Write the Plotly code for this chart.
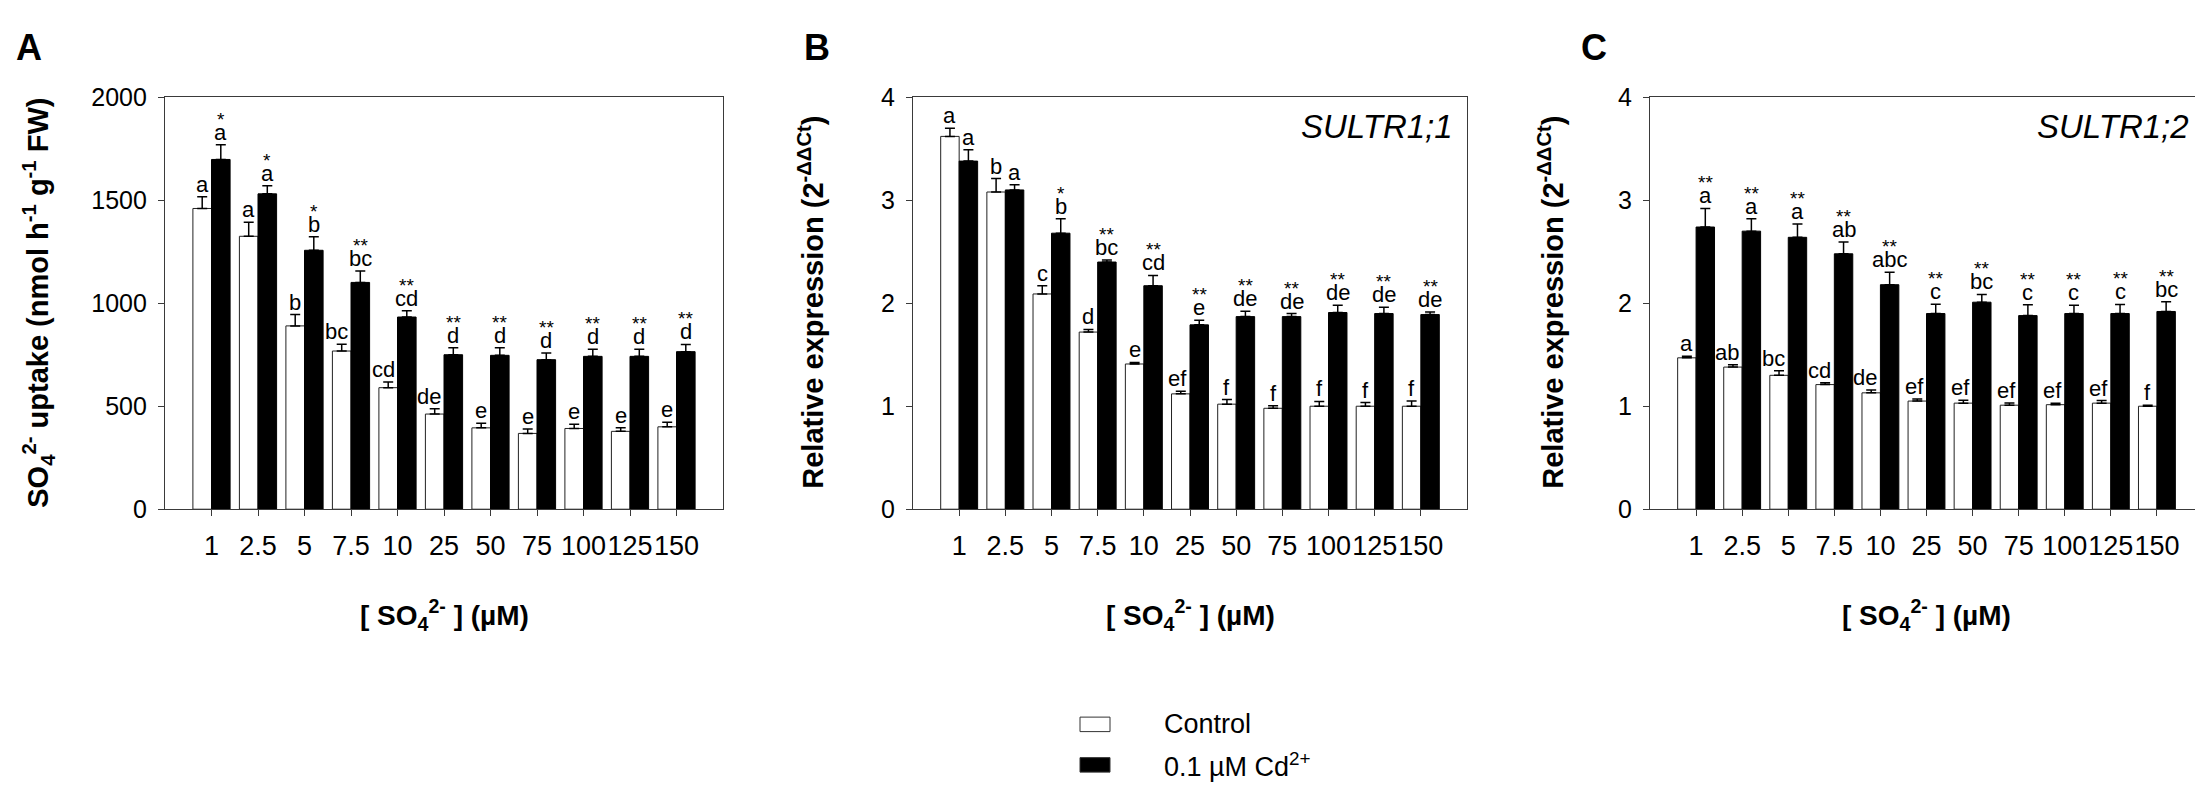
import plotly.graph_objects as go

# sulfate concentrations (µM)
conc = ["1", "2.5", "5", "7.5", "10", "25", "50", "75", "100", "125", "150"]
idx = list(range(len(conc)))

# A: SO4 uptake
uptake_ctrl = [1460, 1325, 890, 768, 590, 462, 395, 368, 392, 378, 400]
uptake_ctrl_err = [57, 68, 55, 33, 28, 26, 22, 22, 20, 18, 22]
uptake_cd = [1698, 1531, 1257, 1101, 933, 750, 747, 726, 742, 742, 765]
uptake_cd_err = [72, 39, 66, 55, 31, 34, 37, 32, 34, 34, 35]
uptake_ctrl_let = ["a", "a", "b", "bc", "cd", "de", "e", "e", "e", "e", "e"]
uptake_cd_let = ["a", "a", "b", "bc", "cd", "d", "d", "d", "d", "d", "d"]
uptake_cd_sig = ["*", "*", "*", "**", "**", "**", "**", "**", "**", "**", "**"]

# B: SULTR1;1 relative expression
s11_ctrl = [3.62, 3.08, 2.09, 1.72, 1.41, 1.12, 1.02, 0.98, 1.0, 1.0, 1.0]
s11_ctrl_err = [0.08, 0.13, 0.08, 0.025, 0.015, 0.025, 0.045, 0.025, 0.047, 0.035, 0.05]
s11_cd = [3.38, 3.10, 2.68, 2.40, 2.17, 1.79, 1.87, 1.87, 1.91, 1.90, 1.89]
s11_cd_err = [0.11, 0.05, 0.14, 0.02, 0.10, 0.044, 0.053, 0.03, 0.07, 0.06, 0.025]
s11_ctrl_let = ["a", "b", "c", "d", "e", "ef", "f", "f", "f", "f", "f"]
s11_cd_let = ["a", "a", "b", "bc", "cd", "e", "de", "de", "de", "de", "de"]
s11_cd_sig = ["", "", "*", "**", "**", "**", "**", "**", "**", "**", "**"]

# C: SULTR1;2 relative expression
s12_ctrl = [1.47, 1.38, 1.30, 1.21, 1.13, 1.05, 1.03, 1.01, 1.015, 1.03, 1.0]
s12_ctrl_err = [0.016, 0.022, 0.044, 0.019, 0.028, 0.021, 0.028, 0.021, 0.015, 0.025, 0.01]
s12_cd = [2.74, 2.70, 2.64, 2.48, 2.18, 1.90, 2.01, 1.88, 1.90, 1.90, 1.92]
s12_cd_err = [0.18, 0.12, 0.13, 0.115, 0.12, 0.09, 0.075, 0.106, 0.08, 0.088, 0.094]
s12_ctrl_let = ["a", "ab", "bc", "cd", "de", "ef", "ef", "ef", "ef", "ef", "f"]
s12_cd_let = ["a", "a", "a", "ab", "abc", "c", "bc", "c", "c", "c", "bc"]
s12_cd_sig = ["**"] * 11

series_names = ["Control", "0.1 µM Cd<sup>2+</sup>"]

W, H = 2203, 795
FONT = "Liberation Sans, Arial, sans-serif"


def px_x(p):
    return p / W


def px_y(p):
    return (H - p) / H


panels = [
    dict(ax="", dom=(157, 715), yr=[0, 2000], dt=500,
         ctrl=uptake_ctrl, ce=uptake_ctrl_err, cd=uptake_cd, de=uptake_cd_err,
         cl=uptake_ctrl_let, dl=uptake_cd_let, sig=uptake_cd_sig,
         letter="A", lx=21,
         ytitle="SO<sub>4</sub><sup>2-</sup> uptake (nmol h<sup>-1</sup> g<sup>-1</sup> FW)",
         ytx=30, gene=None),
    dict(ax="2", dom=(905, 1459), yr=[0, 4], dt=1,
         ctrl=s11_ctrl, ce=s11_ctrl_err, cd=s11_cd, de=s11_cd_err,
         cl=s11_ctrl_let, dl=s11_cd_let, sig=s11_cd_sig,
         letter="B", lx=809, ytitle="Relative expression (2<sup>-ΔΔCt</sup>)",
         ytx=803, gene="SULTR1;1"),
    dict(ax="3", dom=(1642, 2195), yr=[0, 4], dt=1,
         ctrl=s12_ctrl, ce=s12_ctrl_err, cd=s12_cd, de=s12_cd_err,
         cl=s12_ctrl_let, dl=s12_cd_let, sig=s12_cd_sig,
         letter="C", lx=1586, ytitle="Relative expression (2<sup>-ΔΔCt</sup>)",
         ytx=1543, gene="SULTR1;2"),
]

fig = go.Figure()
annotations = []
shapes = []
layout = {}
ydom = [px_y(505), px_y(78)]
axis_col = "#3a3a3a"


def paper_text(x, y, text, size, **kw):
    d = dict(x=px_x(x), y=px_y(y), xref="paper", yref="paper", showarrow=False,
             xanchor="center", yanchor="middle", text=text,
             font=dict(family=FONT, size=size, color="black"))
    d.update(kw)
    return d


for k, p in enumerate(panels):
    xa, ya = "x" + p["ax"], "y" + p["ax"]
    fig.add_trace(go.Bar(
        x=idx, y=p["ctrl"], width=0.4, offset=-0.4, xaxis=xa, yaxis=ya,
        name=series_names[0], showlegend=False,
        marker=dict(color="white", line=dict(color="#222", width=1)),
        error_y=dict(type="data", array=p["ce"], arrayminus=[0] * 11, symmetric=False,
                     color="black", thickness=1.5, width=5)))
    fig.add_trace(go.Bar(
        x=idx, y=p["cd"], width=0.4, offset=0, xaxis=xa, yaxis=ya,
        name=series_names[1], showlegend=False,
        marker=dict(color="black", line=dict(color="black", width=1)),
        error_y=dict(type="data", array=p["de"], arrayminus=[0] * 11, symmetric=False,
                     color="black", thickness=1.5, width=5)))

    layout["xaxis" + p["ax"]] = dict(
        domain=[px_x(p["dom"][0]), px_x(p["dom"][1])], anchor=ya,
        range=[-1, 11], tickmode="array", tickvals=idx, ticktext=conc,
        tickangle=0, ticks="outside", ticklen=6, tickwidth=1, tickcolor=axis_col,
        showline=True, linecolor=axis_col, linewidth=1.2, mirror=True,
        showgrid=False, zeroline=False, ticklabelstandoff=6,
        tickfont=dict(family=FONT, size=27, color="black"))
    layout["yaxis" + p["ax"]] = dict(
        domain=ydom, anchor=xa, range=p["yr"], dtick=p["dt"], tick0=0,
        ticks="outside", ticklen=6, tickwidth=1, tickcolor=axis_col,
        showline=True, linecolor=axis_col, linewidth=1.2, mirror=True,
        showgrid=False, zeroline=False, ticklabelstandoff=6,
        tickfont=dict(family=FONT, size=25, color="black"))

    # significance letters above error bars
    for i in idx:
        lab = p["cl"][i]
        if len(lab) > 1:
            pos = dict(x=i, xanchor="right", xshift=-1)
        else:
            pos = dict(x=i - 0.2, xanchor="center")
        annotations.append(dict(
            y=p["ctrl"][i] + p["ce"][i], xref=xa, yref=ya,
            text=lab, showarrow=False, yanchor="bottom", yshift=-2,
            font=dict(family=FONT, size=22, color="black"), **pos))
        annotations.append(dict(
            x=i + 0.2, y=p["cd"][i] + p["de"][i], xref=xa, yref=ya,
            text=p["dl"][i], showarrow=False, xanchor="center", yanchor="bottom", yshift=-2,
            font=dict(family=FONT, size=22, color="black")))
        if p["sig"][i]:
            annotations.append(dict(
                x=i + 0.2, y=p["cd"][i] + p["de"][i], xref=xa, yref=ya,
                text=p["sig"][i], showarrow=False, xanchor="center", yanchor="bottom",
                yshift=13, font=dict(family=FONT, size=19, color="black")))

    cx = (p["dom"][0] + p["dom"][1]) / 2
    annotations.append(paper_text(cx, 615, "<b>[ SO<sub>4</sub><sup>2-</sup> ] (µM)</b>", 28))
    annotations.append(paper_text(p["ytx"], 291, "<b>" + p["ytitle"] + "</b>", 29,
                                  textangle=-90))
    annotations.append(paper_text(p["lx"], 26, "<b>" + p["letter"] + "</b>", 36))
    if p["gene"]:
        annotations.append(paper_text(p["dom"][1] - 12, 108, "<i>" + p["gene"] + "</i>", 33,
                                      xanchor="right"))

# legend: swatches and labels
legend_rows = [(728, "white"), (770, "black")]
for (cy, fill), name in zip(legend_rows, series_names):
    shapes.append(dict(type="rect", xref="paper", yref="paper",
                       x0=px_x(1072), x1=px_x(1102), y0=px_y(cy + 7.5), y1=px_y(cy - 7.5),
                       fillcolor=fill, line=dict(color="#333", width=1)))
    annotations.append(paper_text(1154, cy, name, 27, xanchor="left"))

fig.update_layout(
    width=W, height=H,
    margin=dict(l=0, r=0, t=0, b=0),
    paper_bgcolor="white", plot_bgcolor="white",
    barmode="overlay",
    showlegend=False,
    annotations=annotations,
    shapes=shapes,
    **layout)

fig.write_html("out.html")
